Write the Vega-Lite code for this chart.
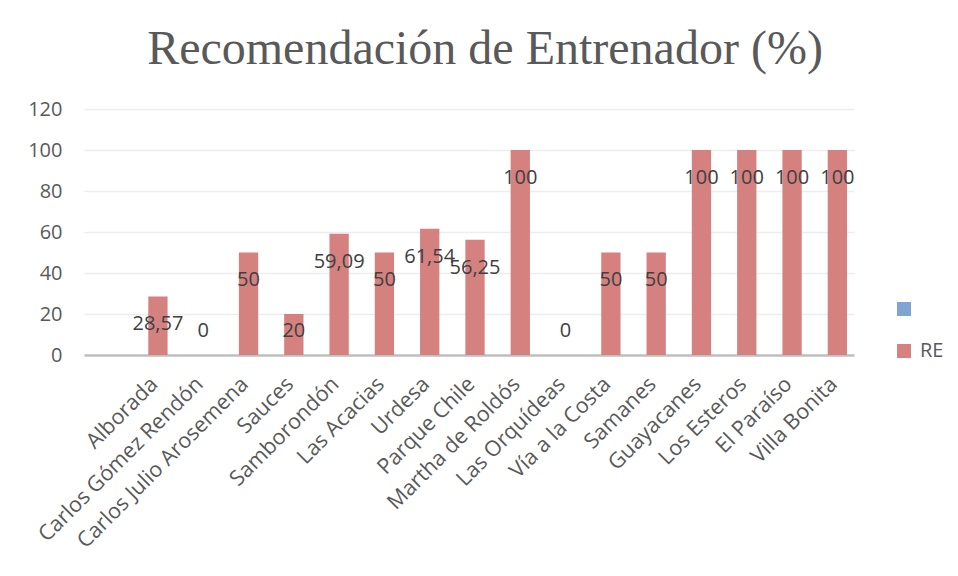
{
  "$schema": "https://vega.github.io/schema/vega-lite/v6.json",
  "width": 770,
  "height": 246,
  "autosize": {"type": "none"},
  "padding": {"left": 84, "top": 109, "right": 104, "bottom": 221},
  "background": "white",
  "title": {
    "text": "Recomendación de Entrenador (%)",
    "font": "Liberation Serif",
    "fontSize": 48,
    "fontWeight": "normal",
    "color": "#595959",
    "anchor": "middle",
    "baseline": "alphabetic",
    "dx": 16,
    "dy": 50,
    "offset": 37
  },
  "data": {
    "values": [
      {"barrio": "Alborada", "RE": 28.57},
      {"barrio": "Carlos Gómez Rendón", "RE": 0},
      {"barrio": "Carlos Julio Arosemena", "RE": 50},
      {"barrio": "Sauces", "RE": 20},
      {"barrio": "Samborondón", "RE": 59.09},
      {"barrio": "Las Acacias", "RE": 50},
      {"barrio": "Urdesa", "RE": 61.54},
      {"barrio": "Parque Chile", "RE": 56.25},
      {"barrio": "Martha de Roldós", "RE": 100},
      {"barrio": "Las Orquídeas", "RE": 0},
      {"barrio": "Vía a la Costa", "RE": 50},
      {"barrio": "Samanes", "RE": 50},
      {"barrio": "Guayacanes", "RE": 100},
      {"barrio": "Los Esteros", "RE": 100},
      {"barrio": "El Paraíso", "RE": 100},
      {"barrio": "Villa Bonita", "RE": 100}
    ]
  },
  "transform": [
    {"calculate": "replace(toString(datum.RE), '.', ',')", "as": "etiqueta"},
    {"calculate": "max(datum.RE - 13.6, 11.8)", "as": "pos_etiqueta"}
  ],
  "encoding": {
    "x": {
      "field": "barrio",
      "type": "nominal",
      "sort": null,
      "scale": {
        "domain": [" ", "Alborada", "Carlos Gómez Rendón", "Carlos Julio Arosemena", "Sauces", "Samborondón", "Las Acacias", "Urdesa", "Parque Chile", "Martha de Roldós", "Las Orquídeas", "Vía a la Costa", "Samanes", "Guayacanes", "Los Esteros", "El Paraíso", "Villa Bonita"],
        "paddingInner": 0,
        "paddingOuter": 0
      },
      "axis": {
        "title": null,
        "labelAngle": -45,
        "labelFont": "Open Sans",
        "labelFontSize": 21.5,
        "labelColor": "#595959",
        "labelPadding": 18,
        "labelOffset": -5,
        "labelLimit": 0,
        "labelOverlap": false,
        "ticks": false,
        "domainColor": "#BFBFBF",
        "domainWidth": 2.5,
        "grid": false
      }
    }
  },
  "layer": [
    {
      "mark": {"type": "bar", "width": 19.3, "xOffset": 6},
      "encoding": {
        "y": {
          "field": "RE",
          "type": "quantitative",
          "scale": {"domain": [0, 120], "nice": false},
          "axis": {
            "title": null,
            "values": [0, 20, 40, 60, 80, 100, 120],
            "labelFont": "Open Sans",
            "labelFontSize": 20,
            "labelColor": "#595959",
            "labelPadding": 22,
            "ticks": false,
            "domain": false,
            "gridColor": "#EDEDED",
            "gridWidth": 1.5
          }
        },
        "color": {
          "datum": "RE",
          "scale": {"domain": [" ", "RE"], "range": ["#7FA4D2", "#D48180"]},
          "legend": {
            "title": null,
            "orient": "none",
            "legendX": 810,
            "legendY": 190,
            "symbolType": "square",
            "symbolSize": 196,
            "symbolStrokeWidth": 0,
            "symbolOpacity": 1,
            "labelFont": "Open Sans",
            "labelFontSize": 20,
            "labelColor": "#595959",
            "labelOffset": 6,
            "rowPadding": 22
          }
        }
      }
    },
    {
      "mark": {
        "type": "text",
        "font": "Open Sans",
        "fontSize": 20,
        "color": "#404040",
        "baseline": "middle",
        "dx": 6
      },
      "encoding": {
        "y": {"field": "pos_etiqueta", "type": "quantitative"},
        "text": {"field": "etiqueta"}
      }
    }
  ],
  "config": {
    "view": {"stroke": null},
    "axis": {"gridColor": "#EDEDED"}
  }
}
